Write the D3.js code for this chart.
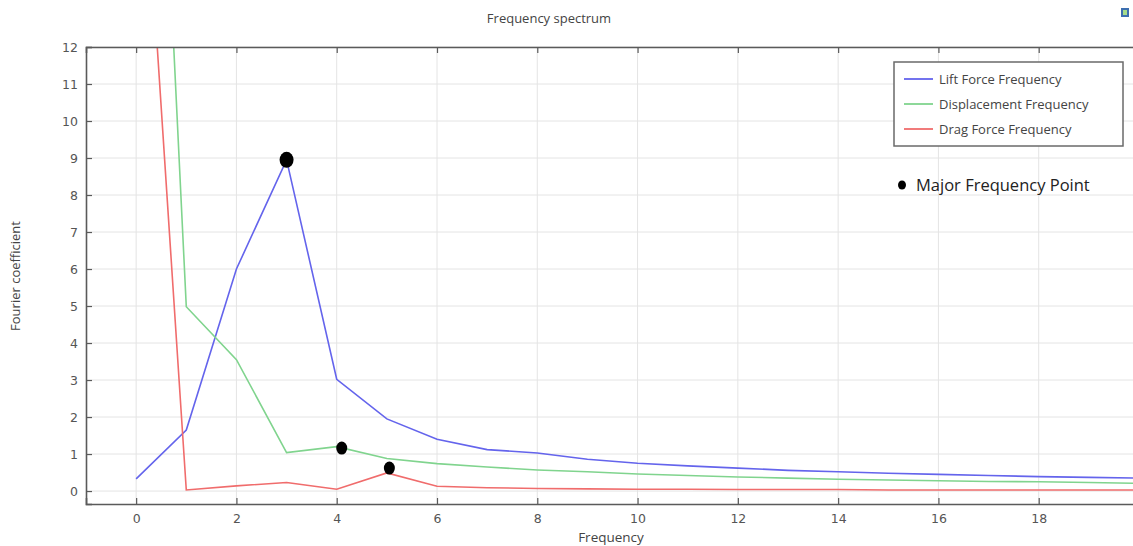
<!DOCTYPE html>
<html>
<head>
<meta charset="utf-8">
<script src="https://cdn.jsdelivr.net/npm/d3@7"></script>
<style>
  body { margin: 0; background: #fff; }
  svg { display: block; }
</style>
</head>
<body>
<div id="chart"></div>
<script>
// Frequency values (x axis)
var freq = [0, 1, 2, 3, 4, 5, 6, 7, 8, 9, 10, 11, 12, 13, 14, 15, 16, 17, 18, 19, 20];

// Fourier coefficients
var liftForce = [0.33, 1.65, 6.0, 8.95, 3.02, 1.95, 1.4, 1.12, 1.03, 0.86, 0.75, 0.68, 0.62, 0.56, 0.52, 0.48, 0.45, 0.42, 0.39, 0.37, 0.35];
var displacement = [33, 4.98, 3.55, 1.04, 1.2, 0.88, 0.74, 0.65, 0.57, 0.52, 0.46, 0.42, 0.38, 0.35, 0.32, 0.3, 0.28, 0.26, 0.25, 0.23, 0.21];
var dragForce = [20.7, 0.03, 0.14, 0.23, 0.05, 0.49, 0.13, 0.09, 0.07, 0.06, 0.05, 0.05, 0.04, 0.04, 0.04, 0.03, 0.03, 0.03, 0.03, 0.03, 0.03];

var seriesNames = ["Lift Force Frequency", "Displacement Frequency", "Drag Force Frequency"];

// major frequency points (black markers)
var majorX = [3, 4.1, 5.05];
var majorY = [8.95, 1.16, 0.62];

var xTicks = [0, 2, 4, 6, 8, 10, 12, 14, 16, 18];
var yTicks = [0, 1, 2, 3, 4, 5, 6, 7, 8, 9, 10, 11, 12];

var svgWidth = 1133;
var svgHeight = 546;

var margin = { top: 47, right: -6, bottom: 42, left: 86 };
var width = svgWidth - margin.left - margin.right;
var height = svgHeight - margin.top - margin.bottom;

var colors = ["#6464ec", "#80d48e", "#f06c6c"];
var axisColor = "#5a5a5a";
var tickFont = "'DejaVu Sans', sans-serif";
var textFont = "'Open Sans', sans-serif";

var svg = d3.select("#chart")
  .append("svg")
  .attr("width", svgWidth)
  .attr("height", svgHeight);

var chartGroup = svg.append("g")
  .attr("transform", `translate(${margin.left}, ${margin.top})`);

var xScale = d3.scaleLinear().domain([-1, 20]).range([0, width]);
var yScale = d3.scaleLinear().domain([-0.35, 12]).range([height, 0]);

// grid
chartGroup.append("g")
  .selectAll("line")
  .data(xTicks)
  .enter()
  .append("line")
  .attr("x1", d => xScale(d))
  .attr("x2", d => xScale(d))
  .attr("y1", 0)
  .attr("y2", height)
  .attr("stroke", "#e4e4e4")
  .attr("stroke-width", 1);

chartGroup.append("g")
  .selectAll("line")
  .data(yTicks)
  .enter()
  .append("line")
  .attr("x1", 0)
  .attr("x2", width)
  .attr("y1", d => yScale(d))
  .attr("y2", d => yScale(d))
  .attr("stroke", "#e4e4e4")
  .attr("stroke-width", 1);

// clip lines to the plot area
chartGroup.append("clipPath")
  .attr("id", "plotClip")
  .append("rect")
  .attr("width", width)
  .attr("height", height);

var seriesData = [liftForce, displacement, dragForce];

var line = d3.line()
  .x((d, i) => xScale(freq[i]))
  .y(d => yScale(d));

chartGroup.append("g")
  .attr("clip-path", "url(#plotClip)")
  .selectAll("path")
  .data(seriesData)
  .enter()
  .append("path")
  .attr("d", d => line(d))
  .attr("fill", "none")
  .attr("stroke", (d, i) => colors[i])
  .attr("stroke-width", 1.6);

// axes (ticks inward)
var xAxis = d3.axisBottom(xScale).tickValues(xTicks).tickSize(-6).tickPadding(10);
var yAxis = d3.axisLeft(yScale).tickValues(yTicks).tickSize(-6).tickPadding(8);
var xTop = d3.axisTop(xScale).tickValues(xTicks).tickSize(-6).tickFormat("");

var gx = chartGroup.append("g")
  .attr("transform", `translate(0, ${height})`)
  .call(xAxis);
var gy = chartGroup.append("g").call(yAxis);
var gt = chartGroup.append("g").call(xTop);

[gx, gy, gt].forEach(function(g) {
  g.select(".domain").attr("stroke", axisColor).attr("stroke-width", 1.6);
  g.selectAll(".tick line").attr("stroke", axisColor).attr("stroke-width", 1.2);
  g.selectAll(".tick text")
    .attr("fill", "#555")
    .attr("font-family", tickFont)
    .attr("font-size", "12.5px");
});

// major frequency markers
chartGroup.append("g")
  .selectAll("ellipse")
  .data(majorX)
  .enter()
  .append("ellipse")
  .attr("cx", d => xScale(d))
  .attr("cy", (d, i) => yScale(majorY[i]))
  .attr("rx", (d, i) => i === 0 ? 7 : 5.5)
  .attr("ry", (d, i) => i === 0 ? 8 : 6.5)
  .attr("fill", "#000");

// title and axis labels
svg.append("text")
  .attr("x", 549)
  .attr("y", 23)
  .attr("text-anchor", "middle")
  .attr("font-family", textFont)
  .attr("font-size", "13px")
  .attr("fill", "#444")
  .text("Frequency spectrum");

svg.append("text")
  .attr("x", 611)
  .attr("y", 542)
  .attr("text-anchor", "middle")
  .attr("font-family", textFont)
  .attr("font-size", "13.5px")
  .attr("fill", "#444")
  .text("Frequency");

svg.append("text")
  .attr("transform", "translate(20, 276) rotate(-90)")
  .attr("text-anchor", "middle")
  .attr("font-family", textFont)
  .attr("font-size", "13px")
  .attr("fill", "#444")
  .text("Fourier coefficient");

// legend
var legend = svg.append("g").attr("transform", "translate(894, 62)");
legend.append("rect")
  .attr("width", 229)
  .attr("height", 84)
  .attr("fill", "#fff")
  .attr("stroke", "#6a6a6a")
  .attr("stroke-width", 1.5);

var items = legend.selectAll("g.item")
  .data(seriesNames)
  .enter()
  .append("g")
  .attr("class", "item")
  .attr("transform", (d, i) => `translate(0, ${17 + i * 25})`);

items.append("line")
  .attr("x1", 10)
  .attr("x2", 39)
  .attr("stroke", (d, i) => colors[i])
  .attr("stroke-width", 1.8);

items.append("text")
  .attr("x", 45)
  .attr("y", 4.5)
  .attr("font-family", textFont)
  .attr("font-size", "13px")
  .attr("fill", "#444")
  .text(d => d);

// pasted annotation
svg.append("ellipse")
  .attr("cx", 902)
  .attr("cy", 185)
  .attr("rx", 4)
  .attr("ry", 4.5)
  .attr("fill", "#000");

svg.append("text")
  .attr("x", 916)
  .attr("y", 191)
  .attr("font-family", textFont)
  .attr("font-size", "16.5px")
  .attr("fill", "#222")
  .text("Major Frequency Point");

// small toolbar icon at top right
svg.append("rect")
  .attr("x", 1121)
  .attr("y", 8)
  .attr("width", 8)
  .attr("height", 9)
  .attr("fill", "#3d6fb0");
svg.append("rect")
  .attr("x", 1123)
  .attr("y", 10)
  .attr("width", 4)
  .attr("height", 5)
  .attr("fill", "#a6dc8a");
</script>
</body>
</html>
